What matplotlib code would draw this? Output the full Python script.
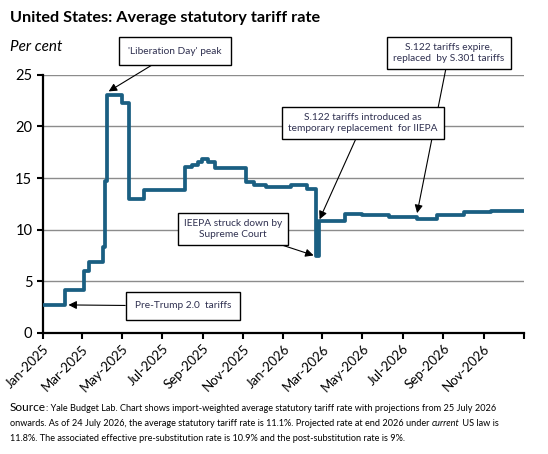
import pandas as pd
import matplotlib.pyplot as plt
import matplotlib.dates as mdates

plt.rcParams['font.family'] = ['Lato', 'DejaVu Sans']

# step dates and statutory tariff rate (per cent)
dates = ['2025-01-01', '2025-02-04', '2025-03-04', '2025-03-12', '2025-04-02',
         '2025-04-05', '2025-04-09', '2025-05-01', '2025-05-12', '2025-06-04',
         '2025-08-05', '2025-08-15', '2025-08-25', '2025-08-31', '2025-09-09',
         '2025-09-19', '2025-11-06', '2025-11-18', '2025-12-05', '2026-01-12',
         '2026-02-06', '2026-02-20', '2026-02-24', '2026-04-05', '2026-04-30',
         '2026-06-10', '2026-07-23', '2026-08-22', '2026-10-02', '2026-11-12',
         '2027-01-01']
rates = [2.7, 4.15, 6.0, 6.85, 8.3,
         14.7, 23.05, 22.3, 13.0, 13.85,
         16.1, 16.3, 16.6, 16.85, 16.6,
         15.95, 14.6, 14.3, 14.15, 14.3,
         13.9, 7.4, 10.85, 11.5, 11.4,
         11.25, 11.05, 11.4, 11.7, 11.85,
         11.85]

yticks = [0, 5, 10, 15, 20, 25]
xtick_dates = pd.date_range('2025-01-01', '2027-01-01', freq='2MS')

dates = pd.to_datetime(dates)

fig = plt.figure(figsize=(5.48, 4.54), dpi=100)
ax = fig.add_axes([0.078, 0.267, 0.878, 0.568])

ax.plot(dates, rates, drawstyle='steps-post', color='#1a5f82', linewidth=2.7,
        solid_joinstyle='round', zorder=3)

ax.set_xlim(pd.Timestamp('2025-01-01'), pd.Timestamp('2027-01-01'))
ax.set_ylim(0, 25)
ax.set_yticks(yticks)
ax.set_xticks(xtick_dates)
labels = [d.strftime('%b-%Y') for d in xtick_dates]
labels[-1] = ''
ax.set_xticklabels(labels, rotation=45, ha='right', rotation_mode='anchor', fontsize=9.5)
ax.tick_params(axis='y', labelsize=10.5, length=4, width=1.5, direction='out')
ax.tick_params(axis='x', length=4, width=1.5, direction='out', pad=3)

ax.grid(axis='y', color='#8c8c8c', linewidth=1)
ax.set_axisbelow(True)
for s in ['top', 'right']:
    ax.spines[s].set_visible(False)
for s in ['left', 'bottom']:
    ax.spines[s].set_linewidth(1.6)

# annotations
box = dict(boxstyle='square,pad=0.6', fc='white', ec='black', lw=1)
box_wide = dict(boxstyle='square,pad=0.9', fc='white', ec='black', lw=1)
arrow = dict(arrowstyle='-|>', color='black', lw=0.8, mutation_scale=12,
             shrinkA=0, shrinkB=0)
tcol = '#2f3050'
afs = 7.3

ax.annotate("'Liberation Day' peak", xy=(pd.Timestamp('2025-04-11'), 23.4),
            xytext=(175 / 548, 1 - 51 / 454), textcoords='figure fraction',
            ha='center', va='center', fontsize=afs, color=tcol, bbox=box_wide,
            arrowprops=arrow)
ax.annotate("S.122 tariffs expire,\nreplaced  by S.301 tariffs",
            xy=(pd.Timestamp('2026-07-23'), 11.6),
            xytext=(449 / 548, 1 - 53 / 454), textcoords='figure fraction',
            ha='center', va='center', fontsize=afs, color=tcol, bbox=box,
            arrowprops=arrow)
ax.annotate("S.122 tariffs introduced as\ntemporary replacement  for IIEPA",
            xy=(pd.Timestamp('2026-02-25'), 11.0),
            xytext=(363 / 548, 1 - 123 / 454), textcoords='figure fraction',
            ha='center', va='center', fontsize=afs, color=tcol, bbox=box,
            arrowprops=arrow)
ax.annotate("IEEPA struck down by\nSupreme Court",
            xy=(pd.Timestamp('2026-02-16'), 7.5),
            xytext=(233 / 548, 1 - 229 / 454), textcoords='figure fraction',
            ha='center', va='center', fontsize=afs, color=tcol, bbox=box,
            arrowprops=arrow)
ax.annotate("Pre-Trump 2.0  tariffs",
            xy=(pd.Timestamp('2025-02-09'), 2.7),
            xytext=(183 / 548, 1 - 306 / 454), textcoords='figure fraction',
            ha='center', va='center', fontsize=afs, color=tcol, bbox=box_wide,
            arrowprops=arrow)

# titles
fig.text(10 / 548, 1 - 18 / 454, 'United States: Average statutory tariff rate',
         fontsize=11.7, fontweight='bold', va='center', ha='left')
fig.text(10 / 548, 1 - 47 / 454, 'Per cent', fontsize=11, style='italic',
         va='center', ha='left')

# source note, pieced together so that 'Source' and 'current' keep their style
fig.canvas.draw()
r = fig.canvas.get_renderer()


def put(x, y, s, **kw):
    t = fig.text(x, y, s, va='baseline', ha='left', transform=None, **kw)
    return t.get_window_extent(r).x1


sfs = 6.6
H = 454
x = put(10, H - 411, 'Source', fontsize=8.6)
put(x, H - 411, ': Yale Budget Lab. Chart shows import-weighted average statutory tariff rate '
    'with projections from 25 July 2026', fontsize=sfs)
x = put(10, H - 426, 'onwards. As of 24 July 2026, the average statutory tariff rate is 11.1%. '
        'Projected rate at end 2026 under ', fontsize=sfs)
x = put(x, H - 426, 'current', fontsize=sfs, style='italic')
put(x, H - 426, ' US law is', fontsize=sfs)
put(10, H - 441, '11.8%. The associated effective pre-substitution rate is 10.9% and the '
    'post-substitution rate is 9%.', fontsize=sfs)

fig.savefig('out.png', dpi=100)
